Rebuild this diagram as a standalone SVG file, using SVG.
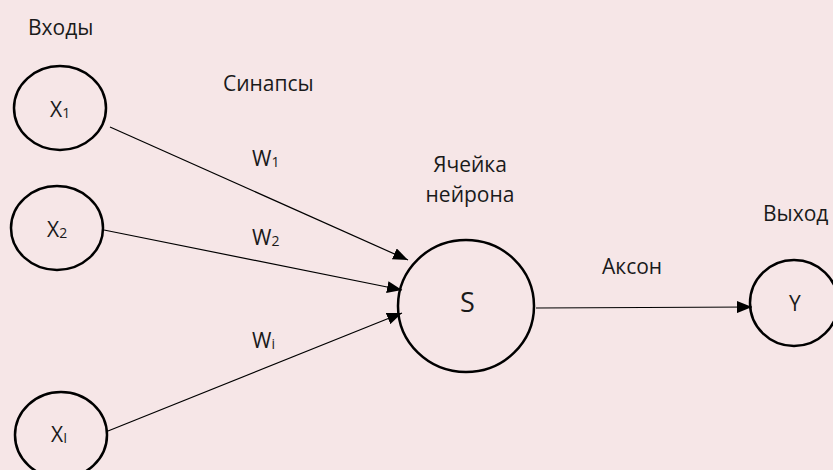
<svg xmlns="http://www.w3.org/2000/svg" width="833" height="470" viewBox="0 0 833 470">
<defs>
<marker id="ah" markerWidth="15" markerHeight="12" refX="15" refY="6" orient="auto" markerUnits="userSpaceOnUse" viewBox="0 0 15 12">
<path d="M0,0 L15,6 L0,12 Z" fill="#000"/>
</marker>
<style>
.n{fill:none;stroke:#000;stroke-width:2.5}
.c{stroke:#000;stroke-width:1.2;fill:none;marker-end:url(#ah)}
text{font-family:"Open Sans","Liberation Sans",sans-serif;fill:#1a1a1a}
.lb{font-size:21px}
.nl{font-size:21px}
.sb{font-size:14px}
</style>
</defs>
<rect width="833" height="470" fill="#f6e6e7"/>
<g id="connectors">
<line class="c" x1="110" y1="127" x2="408" y2="260"/>
<line class="c" x1="104" y1="230" x2="402" y2="290"/>
<line class="c" x1="108" y1="431" x2="402" y2="313"/>
<line class="c" x1="536" y1="308" x2="752" y2="307"/>
</g>
<g id="x1"><ellipse class="n" cx="60" cy="108" rx="46" ry="42"/><text class="nl" x="50" y="117">X<tspan class="sb" dy="1">1</tspan></text></g>
<g id="x2"><ellipse class="n" cx="57" cy="228" rx="46" ry="42"/><text class="nl" x="47" y="237">X<tspan class="sb" dy="1">2</tspan></text></g>
<g id="xi"><ellipse class="n" cx="61" cy="435" rx="46" ry="43"/><text class="nl" x="51" y="442">X<tspan class="sb" dy="1">I</tspan></text></g>
<g id="s"><ellipse class="n" cx="466" cy="306" rx="68" ry="66"/><text x="460" y="312" font-size="27">S</text></g>
<g id="y"><ellipse class="n" cx="794" cy="303" rx="44" ry="43"/><text class="nl" x="789" y="311">Y</text></g>
<g id="labels">
<text class="lb" x="28" y="35">Входы</text>
<text class="lb" x="223" y="91">Синапсы</text>
<text class="lb" x="252" y="166">W<tspan class="sb" dy="1">1</tspan></text>
<text class="lb" x="252" y="245">W<tspan class="sb" dy="1">2</tspan></text>
<text class="lb" x="252" y="348">W<tspan class="sb" dy="1">i</tspan></text>
<text class="lb" x="470" y="172" text-anchor="middle">Ячейка</text>
<text class="lb" x="470" y="202" text-anchor="middle">нейрона</text>
<text class="lb" x="602" y="274">Аксон</text>
<text class="lb" x="763" y="221">Выход</text>
</g>
</svg>
